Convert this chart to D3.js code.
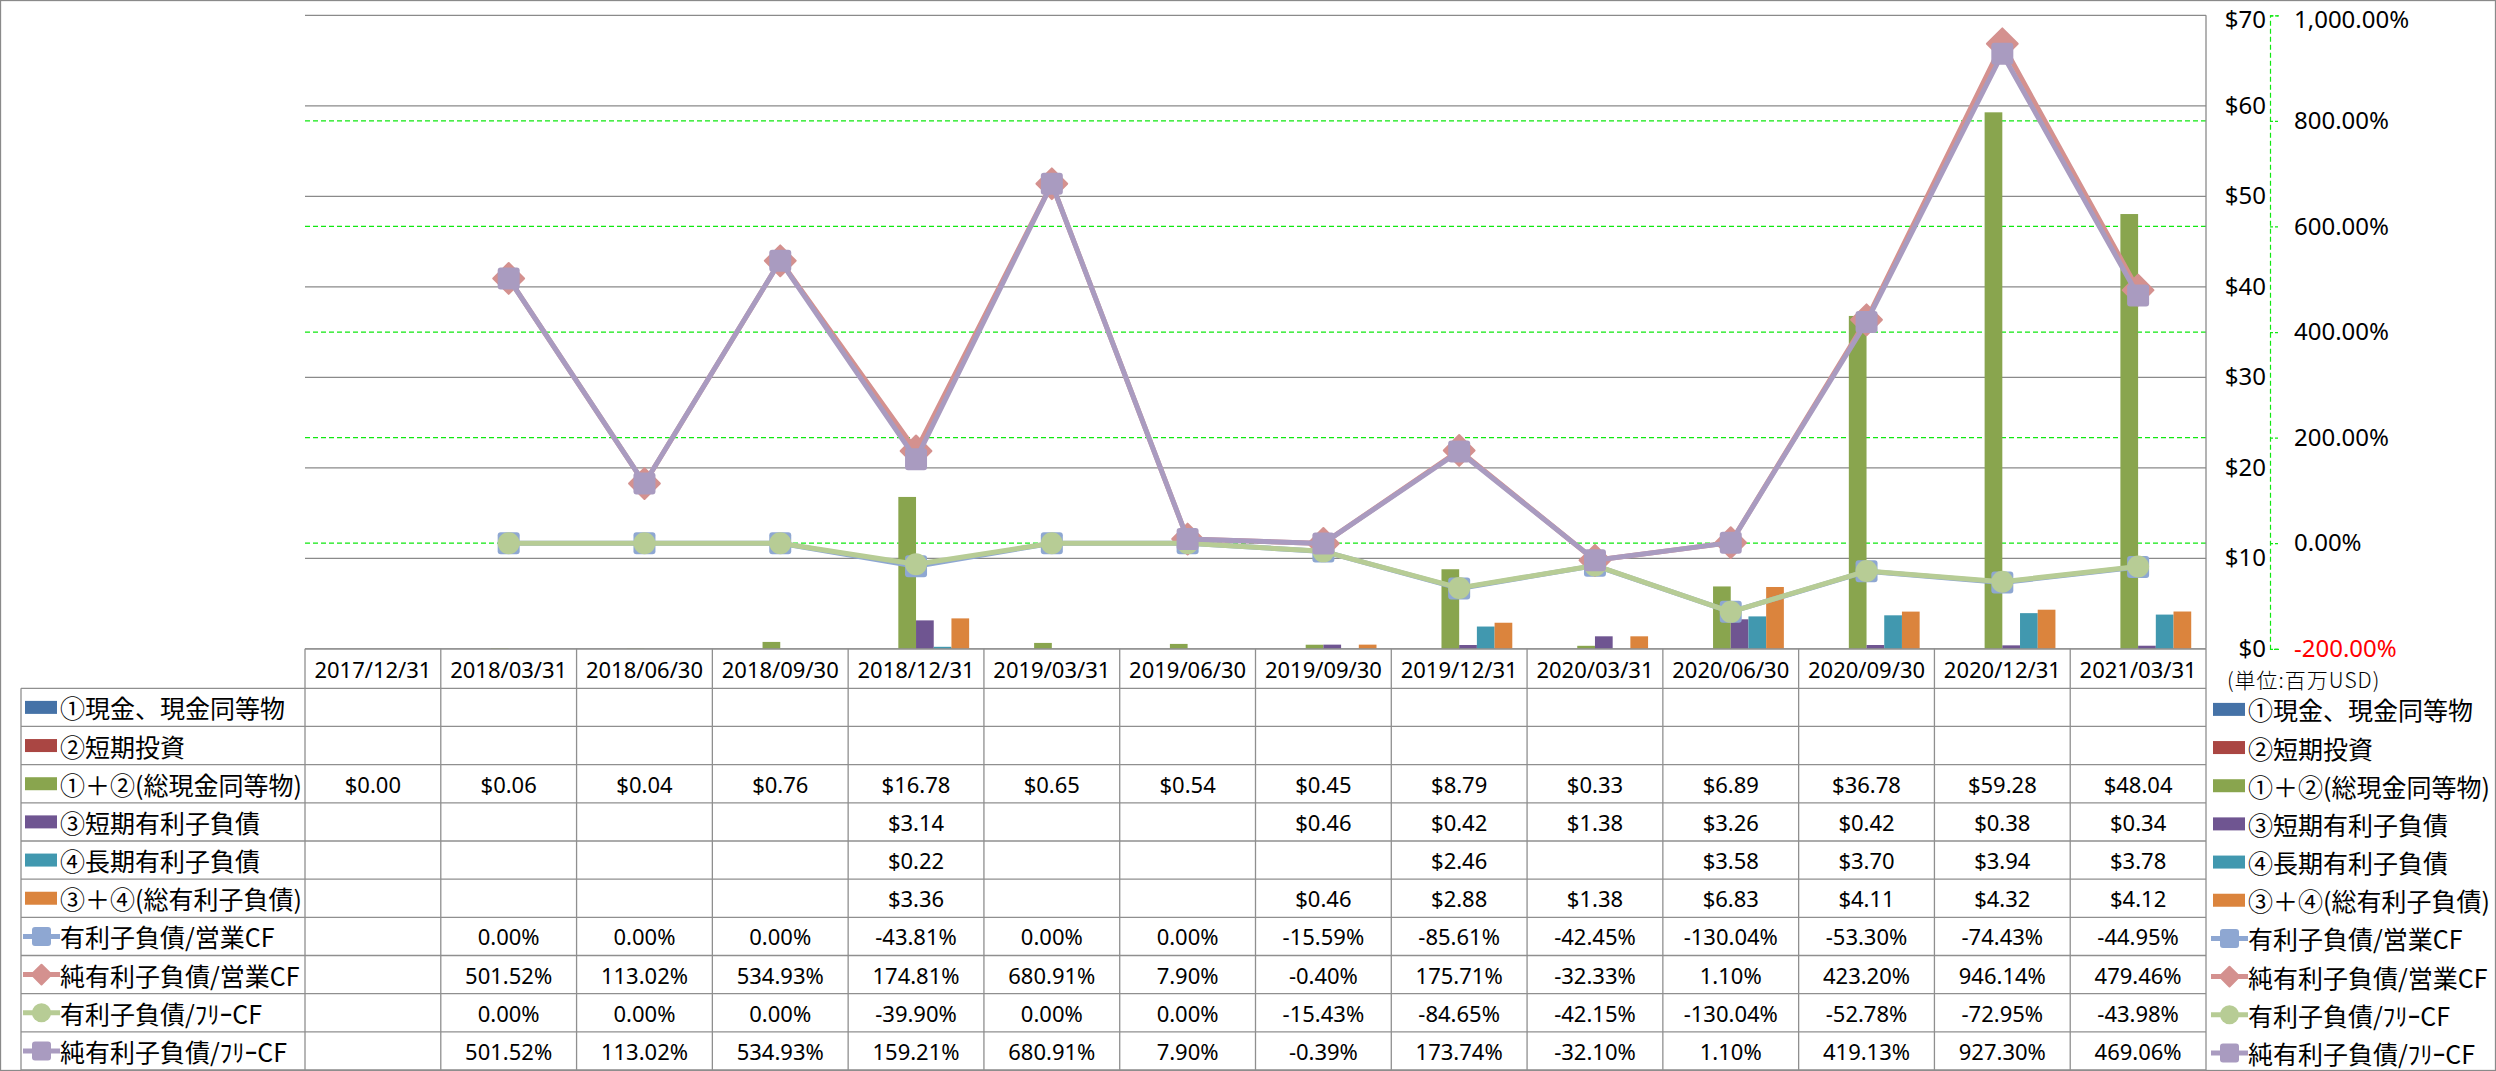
<!DOCTYPE html>
<html><head><meta charset="utf-8">
<script src="https://cdn.jsdelivr.net/npm/d3@7"></script>
<style>body{margin:0;background:#fff} svg{display:block}</style>
</head><body><svg id="c" width="2496" height="1071"></svg>
<script>
// ---------- data ----------
const categories = ["2017/12/31","2018/03/31","2018/06/30","2018/09/30","2018/12/31","2019/03/31","2019/06/30","2019/09/30","2019/12/31","2020/03/31","2020/06/30","2020/09/30","2020/12/31","2021/03/31"];
const cashEq      = [null,null,null,null,null,null,null,null,null,null,null,null,null,null];
const shortInv    = [null,null,null,null,null,null,null,null,null,null,null,null,null,null];
const totalCash   = [0.00,0.06,0.04,0.76,16.78,0.65,0.54,0.45,8.79,0.33,6.89,36.78,59.28,48.04];
const shortDebt   = [null,null,null,null,3.14,null,null,0.46,0.42,1.38,3.26,0.42,0.38,0.34];
const longDebt    = [null,null,null,null,0.22,null,null,null,2.46,null,3.58,3.70,3.94,3.78];
const totalDebt   = [null,null,null,null,3.36,null,null,0.46,2.88,1.38,6.83,4.11,4.32,4.12];
const debtOpCF    = [null,0.00,0.00,0.00,-43.81,0.00,0.00,-15.59,-85.61,-42.45,-130.04,-53.30,-74.43,-44.95];
const netDebtOpCF = [null,501.52,113.02,534.93,174.81,680.91,7.90,-0.40,175.71,-32.33,1.10,423.20,946.14,479.46];
const debtFreeCF  = [null,0.00,0.00,0.00,-39.90,0.00,0.00,-15.43,-84.65,-42.15,-130.04,-52.78,-72.95,-43.98];
const netDebtFreeCF=[null,501.52,113.02,534.93,159.21,680.91,7.90,-0.39,173.74,-32.10,1.10,419.13,927.30,469.06];
const seriesLabels = ["①現金、現金同等物","②短期投資","①＋②(総現金同等物)","③短期有利子負債","④長期有利子負債","③＋④(総有利子負債)","有利子負債/営業CF","純有利子負債/営業CF","有利子負債/ﾌﾘｰCF","純有利子負債/ﾌﾘｰCF"];
const moneyTicks = [0,10,20,30,40,50,60,70];
const pctTicks = [-200,0,200,400,600,800,1000];
const unitLabel = "(単位:百万USD)";

// ---------- setup ----------
const loc = d3.formatLocale({decimal:".",thousands:",",grouping:[3],currency:["$",""],minus:"-"});
const fMoney = loc.format("$.2f"), fPct = v => loc.format(",.2f")(v) + "%";
const fTickM = loc.format("$.0f");

const svg = d3.select("#c");
const W = 2496, H = 1071;
const PL = 305, PR = 2206, PT = 15.3, PB = 648.8;
const rowTop = 688.3, rowH = 38.17;
const LATIN = "'Noto Sans','Noto Sans CJK JP',sans-serif";
const CJK = "'Noto Sans CJK JP','Noto Sans',sans-serif";
const gridGray = "#8a8a8a", lineGreen = "#11e811";

const barColors = ["#4572A7","#AA4643","#89A54E","#6F5591","#4198AF","#DB843D"];
const lineColors = ["#8EA7D2","#D4918F","#B7CC95","#A99BC0"];
const lineMarkers = ["square","diamond","circle","square"];

const barSeries = [cashEq, shortInv, totalCash, shortDebt, longDebt, totalDebt];
const lineSeries = [debtOpCF, netDebtOpCF, debtFreeCF, netDebtFreeCF];

const x = d3.scaleBand().domain(categories).range([PL, PR]);
const xs = d3.scaleBand().domain(d3.range(6)).range([0, x.bandwidth()]).paddingOuter(0.835).paddingInner(0);
const yM = d3.scaleLinear().domain([0,70]).range([PB, PT]);
const yP = d3.scaleLinear().domain([-200,1000]).range([PB, PT]);
const cx = c => x(c) + x.bandwidth()/2;

// outer border
svg.append("rect").attr("x",0.5).attr("y",0.5).attr("width",W-1).attr("height",H-1)
  .attr("fill","#fff").attr("stroke","#8a8a8a").attr("stroke-width",1.3);

// gridlines
svg.append("g").selectAll("line").data(moneyTicks).join("line")
  .attr("x1",PL).attr("x2",PR).attr("y1",d=>yM(d)).attr("y2",d=>yM(d))
  .attr("stroke",gridGray).attr("stroke-width",1.3);
svg.append("g").selectAll("line").data(pctTicks.filter(d=>d>-200 && d<1000)).join("line")
  .attr("x1",PL).attr("x2",PR).attr("y1",d=>yP(d)).attr("y2",d=>yP(d))
  .attr("stroke",lineGreen).attr("stroke-width",1.2).attr("stroke-dasharray","5,3");
// plot right edge
svg.append("line").attr("x1",PR).attr("x2",PR).attr("y1",PT).attr("y2",PB).attr("stroke",gridGray).attr("stroke-width",1.3);

// bars
barSeries.forEach((s,i) => {
  svg.append("g").selectAll("rect").data(categories.map((c,j)=>({c,v:s[j]})).filter(d=>d.v!=null && d.v>0)).join("rect")
    .attr("x",d=>x(d.c)+xs(i)).attr("width",xs.bandwidth())
    .attr("y",d=>yM(d.v)).attr("height",d=>PB-yM(d.v)).attr("fill",barColors[i]);
});

// markers
function marker(g, type, color, size, dscale){
  if(type==="square") g.append("rect").attr("x",-size/2).attr("y",-size/2).attr("width",size).attr("height",size).attr("rx",3).attr("fill",color);
  else if(type==="diamond"){ const r=size*(dscale||0.7); g.append("path").attr("d",`M0,${-r}L${r},0L0,${r}L${-r},0Z`).attr("fill",color).attr("stroke",color).attr("stroke-width",2).attr("stroke-linejoin","round"); }
  else g.append("circle").attr("r",size/2).attr("fill",color);
}

// lines
lineSeries.forEach((s,i) => {
  const pts = categories.map((c,j)=>({c,v:s[j]}));
  const ln = d3.line().defined(d=>d.v!=null).x(d=>cx(d.c)).y(d=>yP(d.v));
  const g = svg.append("g");
  g.append("path").attr("d",ln(pts)).attr("fill","none").attr("stroke",lineColors[i])
    .attr("stroke-width",5).attr("stroke-linejoin","round");
  pts.filter(d=>d.v!=null).forEach(d => {
    const m = g.append("g").attr("transform",`translate(${cx(d.c)},${yP(d.v)})`);
    marker(m, lineMarkers[i], lineColors[i], 22);
  });
});

// right axes
const axM = svg.append("g").attr("transform",`translate(2270,0)`)
  .call(d3.axisLeft(yM).tickValues(moneyTicks).tickFormat(fTickM).tickSize(0).tickPadding(4));
axM.select(".domain").remove();
axM.selectAll("text").attr("font-family",LATIN).attr("font-size",24).attr("fill","#000")
  .attr("dy",d=>d===70?"0.5em":"0.32em");

const axP = svg.append("g").attr("transform",`translate(2270,0)`)
  .call(d3.axisRight(yP).tickValues(pctTicks).tickFormat(fPct).tickSize(9).tickPadding(15));
axP.select(".domain").attr("stroke",lineGreen).attr("stroke-width",1.2).attr("stroke-dasharray","5,3");
axP.selectAll(".tick line").attr("stroke",lineGreen).attr("stroke-width",1.2).attr("stroke-dasharray","3,2");
axP.selectAll("text").attr("font-family",LATIN).attr("font-size",24).attr("fill",d=>d<0?"#ff0000":"#000")
  .attr("dy",d=>d===1000?"0.5em":"0.32em");

svg.append("text").attr("x",2227).attr("y",679).attr("dominant-baseline","central")
  .attr("font-family",CJK).attr("font-weight",300).attr("font-size",21).attr("letter-spacing",1).attr("fill","#000").text(unitLabel);

// ---------- data table ----------
const tbl = svg.append("g");
const border = "#8f8f8f";
// header category labels via axis
const axX = tbl.append("g").attr("transform",`translate(0,${PB})`)
  .call(d3.axisBottom(x).tickSize(0).tickPadding(0));
axX.select(".domain").remove();
axX.selectAll("text").attr("y",(rowTop-PB)/2).attr("dy",null).attr("dominant-baseline","central")
  .attr("font-family",LATIN).attr("font-size",22).attr("fill","#000");

const tableBottom = rowTop + rowH*10;
// horizontal lines
tbl.append("line").attr("x1",PL).attr("x2",PR).attr("y1",PB).attr("y2",PB).attr("stroke",border).attr("stroke-width",1.3);
tbl.selectAll("line.h").data(d3.range(11)).join("line").attr("class","h")
  .attr("x1",21).attr("x2",PR).attr("y1",k=>rowTop+k*rowH).attr("y2",k=>rowTop+k*rowH)
  .attr("stroke",border).attr("stroke-width",1.3);
// vertical lines
tbl.selectAll("line.v").data(categories.concat(["__end"])).join("line").attr("class","v")
  .attr("x1",(c,i)=>i<categories.length?x(c):PR).attr("x2",(c,i)=>i<categories.length?x(c):PR)
  .attr("y1",PB).attr("y2",tableBottom).attr("stroke",border).attr("stroke-width",1.3);
tbl.append("line").attr("x1",21).attr("x2",21).attr("y1",rowTop).attr("y2",tableBottom).attr("stroke",border).attr("stroke-width",1.3);

const allSeries = barSeries.concat(lineSeries);
function legendKey(g, i, x0, yc){
  if(i<6){
    g.append("rect").attr("x",x0).attr("y",yc-6.5).attr("width",32).attr("height",13).attr("fill",barColors[i]);
  } else {
    const k=i-6;
    g.append("line").attr("x1",x0-2).attr("x2",x0+35).attr("y1",yc).attr("y2",yc).attr("stroke",lineColors[k]).attr("stroke-width",5);
    const m = g.append("g").attr("transform",`translate(${x0+16.5},${yc})`);
    marker(m, lineMarkers[k], lineColors[k], 19, 0.52);
  }
}
allSeries.forEach((s,i) => {
  const yc = rowTop + rowH*i + rowH/2;
  const fmt = i<6 ? fMoney : fPct;
  tbl.append("g").selectAll("text").data(categories.map((c,j)=>({c,v:s[j]})).filter(d=>d.v!=null)).join("text")
    .attr("x",d=>cx(d.c)).attr("y",yc).attr("text-anchor","middle").attr("dominant-baseline","central")
    .attr("font-family",LATIN).attr("font-size",22).attr("fill","#000").text(d=>fmt(d.v));
  // left legend
  legendKey(tbl, i, 25, yc);
  tbl.append("text").attr("x",60).attr("y",yc).attr("dominant-baseline","central")
    .attr("font-family",CJK).attr("font-size",25).attr("fill","#000").text(seriesLabels[i]);
  // right legend
  legendKey(tbl, i, 2213, yc+2);
  tbl.append("text").attr("x",2248).attr("y",yc+2).attr("dominant-baseline","central")
    .attr("font-family",CJK).attr("font-size",25).attr("fill","#000").text(seriesLabels[i]);
});
</script></body></html>
